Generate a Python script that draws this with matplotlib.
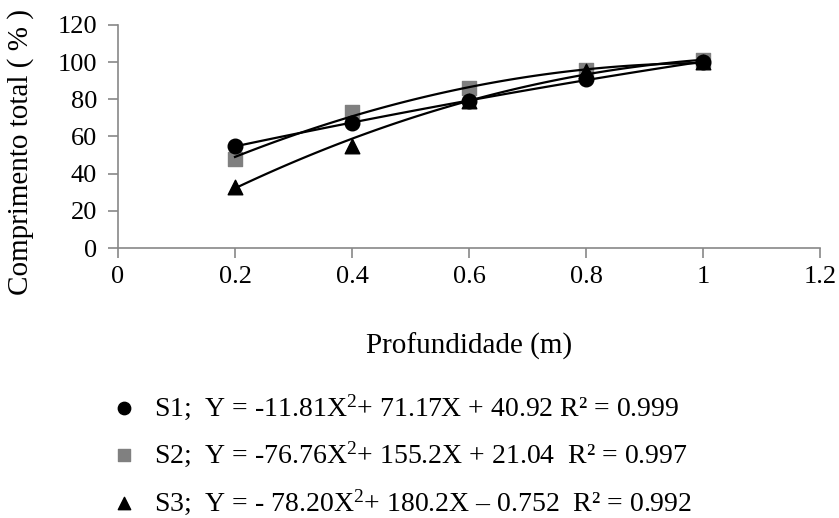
import numpy as np
import matplotlib
matplotlib.use('Agg')
import matplotlib.pyplot as plt

plt.rcParams['font.family'] = ['Liberation Serif', 'DejaVu Serif']
plt.rcParams['mathtext.fontset'] = 'custom'
plt.rcParams['mathtext.rm'] = 'Liberation Serif'
plt.rcParams['mathtext.it'] = 'Liberation Serif'

# depth (m) and relative total root length (%)
depth = [0.2, 0.4, 0.6, 0.8, 1.0]
s1 = [55, 67, 79, 91, 100]
s2 = [48, 73, 86, 96, 101]
s3 = [33, 55, 79, 95, 100]

# quadratic fit coefficients (a, b, c) for Y = aX^2 + bX + c
coef_s1 = [-11.81, 71.17, 40.92]
coef_s2 = [-76.76, 155.2, 21.04]
coef_s3 = [-78.20, 180.2, -0.752]

labels = [
    'S1;  Y = -11.81X$^2$+ 71.17X + 40.92 R² = 0.999',
    'S2;  Y = -76.76X$^2$+ 155.2X + 21.04  R² = 0.997',
    'S3;  Y = - 78.20X$^2$+ 180.2X \u2013 0.752  R² = 0.992',
]

fig = plt.figure(figsize=(8.39, 5.18), dpi=100)
ax = fig.add_axes([0.1406, 0.521, 0.837, 0.431])

xs = np.linspace(0.2, 1.0, 100)
h1 = ax.scatter(depth, s1, marker='o', s=110, color='black', zorder=3)
h2 = ax.scatter(depth, s2, marker='s', s=110, color='#808080', zorder=2)
h3 = ax.scatter(depth, s3, marker='^', s=110, color='black', zorder=3)
for c in (coef_s1, coef_s2, coef_s3):
    ax.plot(xs, np.polyval(c, xs), color='black', lw=1.6, zorder=4)

ax.set_xlim(0, 1.2)
ax.set_ylim(0, 120)
ax.set_xticks([0, 0.2, 0.4, 0.6, 0.8, 1.0, 1.2])
ax.set_xticklabels(['0', '0.2', '0.4', '0.6', '0.8', '1', '1.2'])
ax.set_yticks(range(0, 121, 20))
for side in ('top', 'right'):
    ax.spines[side].set_visible(False)
for side in ('left', 'bottom'):
    ax.spines[side].set_color('#888888')
    ax.spines[side].set_linewidth(1.2)
ax.tick_params(axis='both', colors='#888888', labelcolor='black',
               labelsize=19, length=7, width=1.2)
ax.tick_params(axis='x', pad=6)
ax.tick_params(axis='y', pad=8)
ax.set_xlabel('Profundidade (m)', fontsize=21, labelpad=32)
ax.set_ylabel('Comprimento total ( % )', fontsize=21)
ax.yaxis.set_label_coords(-0.12, 0.43)

fig.legend([h1, h2, h3], labels, loc='upper left',
           bbox_to_anchor=(0.102, 0.265), frameon=False, fontsize=20,
           handletextpad=0.05, labelspacing=0.65, markerscale=0.85,
           borderaxespad=0)

fig.savefig('out.png', dpi=100)
